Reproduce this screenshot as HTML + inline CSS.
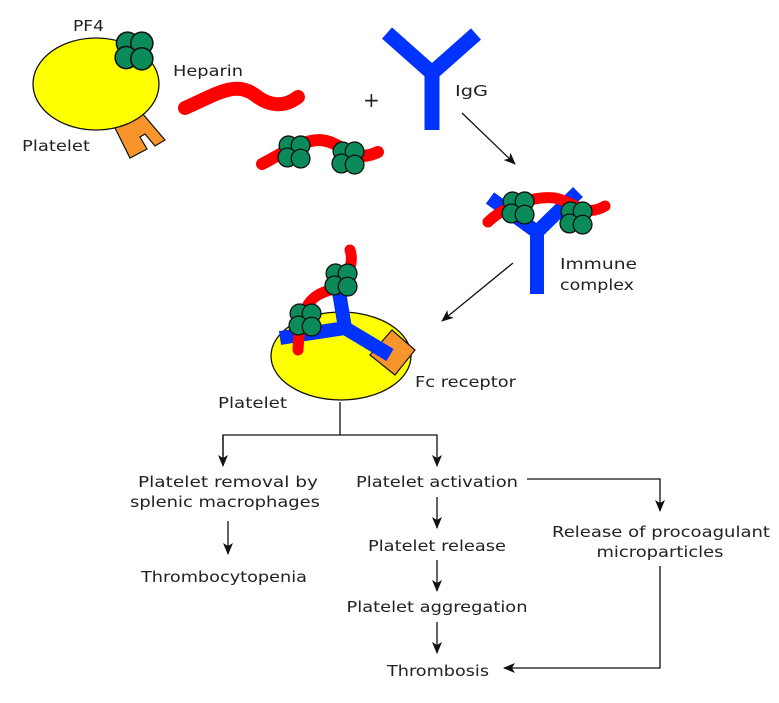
<!DOCTYPE html>
<html><head><meta charset="utf-8"><style>
body{margin:0;background:#fff}
svg text{font-family:"DejaVu Sans","Liberation Sans",sans-serif;font-size:15.5px;fill:#222}
</style></head><body>
<svg width="779" height="698" viewBox="0 0 779 698" xmlns="http://www.w3.org/2000/svg">
<defs>
<marker id="ah" markerWidth="12" markerHeight="12" refX="11" refY="6" orient="auto" markerUnits="userSpaceOnUse">
<path d="M0,1 L12,6 L0,11 L3,6 Z" fill="#111"/></marker>
<g id="pf4">
<circle cx="-5" cy="-6" r="8.5" fill="#0b8a5a" stroke="#111" stroke-width="1.2"/>
<circle cx="6" cy="-6" r="8.5" fill="#0b8a5a" stroke="#111" stroke-width="1.2"/>
<circle cx="-6" cy="5" r="8.5" fill="#0b8a5a" stroke="#111" stroke-width="1.2"/>
<circle cx="6" cy="6" r="8.5" fill="#0b8a5a" stroke="#111" stroke-width="1.2"/>
</g>
</defs>
<!-- top platelet -->
<path d="M115,128 L142,113 L165,140 L155,146 L145,134 L140,137 L147,149 L130,158 Z" fill="#f7942c" stroke="#111" stroke-width="1.2"/>
<ellipse cx="96" cy="84" rx="63" ry="46" fill="#ffff00" stroke="#111" stroke-width="1.3"/>
<g transform="translate(134,51) scale(1.3)"><use href="#pf4"/></g>
<text x="73" y="31" textLength="31" lengthAdjust="spacingAndGlyphs">PF4</text>
<text x="22" y="151" textLength="68" lengthAdjust="spacingAndGlyphs">Platelet</text>
<text x="173" y="76" textLength="70" lengthAdjust="spacingAndGlyphs">Heparin</text>
<path d="M185,108 C215,95 235,80 255,95 C270,107 285,107 298,97" stroke="#f00" stroke-width="14" fill="none" stroke-linecap="round"/>
<text x="363" y="107" style="font-size:20px">+</text>
<!-- heparin + pf4 -->
<path d="M262,164 C280,155 300,140 320,140 C345,142 350,165 378,152" stroke="#f00" stroke-width="12" fill="none" stroke-linecap="round"/>
<g transform="translate(294,152) scale(1.1)"><use href="#pf4"/></g>
<g transform="translate(348,158) scale(1.1)"><use href="#pf4"/></g>
<!-- IgG -->
<path d="M387,33 L432,73 L476,34 M432,73 L432,130" stroke="#0033ff" stroke-width="15" fill="none"/>
<text x="455" y="96" textLength="33" lengthAdjust="spacingAndGlyphs">IgG</text>
<line x1="462" y1="113" x2="515" y2="164" stroke="#111" stroke-width="1.3" marker-end="url(#ah)"/>
<!-- immune complex -->
<path d="M490,198 L537,232 L578,192 M537,232 L537,294" stroke="#0033ff" stroke-width="14" fill="none"/>
<path d="M488,222 C500,210 530,195 555,198 C575,202 585,218 605,206" stroke="#f00" stroke-width="11" fill="none" stroke-linecap="round"/>
<g transform="translate(518,208) scale(1.1)"><use href="#pf4"/></g>
<g transform="translate(576,218) scale(1.1)"><use href="#pf4"/></g>
<text x="560" y="269" textLength="77" lengthAdjust="spacingAndGlyphs">Immune</text>
<text x="560" y="290" textLength="74" lengthAdjust="spacingAndGlyphs">complex</text>
<line x1="513" y1="263" x2="442" y2="321" stroke="#111" stroke-width="1.3" marker-end="url(#ah)"/>
<!-- bottom platelet -->
<ellipse cx="341" cy="356" rx="70" ry="44" fill="#ffff00" stroke="#111" stroke-width="1.3"/>
<path d="M370,355 L392,330 L415,350 L395,375 Z" fill="#f7942c" stroke="#111" stroke-width="1.2"/>
<path d="M280,338 L345,328 L390,355 M345,328 L335,268" stroke="#0033ff" stroke-width="14" fill="none"/>
<path d="M350,250 C355,265 345,285 330,290 C315,295 300,300 298,350" stroke="#f00" stroke-width="11" fill="none" stroke-linecap="round"/>
<g transform="translate(341,280) scale(1.1)"><use href="#pf4"/></g>
<g transform="translate(305,320) scale(1.1)"><use href="#pf4"/></g>
<text x="415" y="387" textLength="101" lengthAdjust="spacingAndGlyphs">Fc receptor</text>
<text x="218" y="408" textLength="69" lengthAdjust="spacingAndGlyphs">Platelet</text>
<!-- flowchart -->
<g stroke="#111" stroke-width="1.3" fill="none">
<line x1="340" y1="402" x2="340" y2="435"/>
<polyline points="223,465 223,435 437,435 437,466" marker-end="url(#ah)"/>
<line x1="223" y1="435" x2="223" y2="466" marker-end="url(#ah)"/>
<polyline points="527,479 660,479 660,511" marker-end="url(#ah)"/>
<line x1="228" y1="521" x2="228" y2="554" marker-end="url(#ah)"/>
<line x1="437" y1="497" x2="437" y2="528" marker-end="url(#ah)"/>
<line x1="437" y1="560" x2="437" y2="591" marker-end="url(#ah)"/>
<line x1="437" y1="622" x2="437" y2="653" marker-end="url(#ah)"/>
<polyline points="660,566 660,668 504,668" marker-end="url(#ah)"/>
</g>
<g text-anchor="middle">
<text x="228" y="487" textLength="180" lengthAdjust="spacingAndGlyphs">Platelet removal by</text>
<text x="225" y="507" textLength="190" lengthAdjust="spacingAndGlyphs">splenic macrophages</text>
<text x="224" y="582" textLength="166" lengthAdjust="spacingAndGlyphs">Thrombocytopenia</text>
<text x="437" y="487" textLength="162" lengthAdjust="spacingAndGlyphs">Platelet activation</text>
<text x="437" y="551" textLength="138" lengthAdjust="spacingAndGlyphs">Platelet release</text>
<text x="437" y="612" textLength="181" lengthAdjust="spacingAndGlyphs">Platelet aggregation</text>
<text x="438" y="676" textLength="102" lengthAdjust="spacingAndGlyphs">Thrombosis</text>
<text x="661" y="537" textLength="218" lengthAdjust="spacingAndGlyphs">Release of procoagulant</text>
<text x="660" y="557" textLength="127" lengthAdjust="spacingAndGlyphs">microparticles</text>
</g>
</svg>
</body></html>
